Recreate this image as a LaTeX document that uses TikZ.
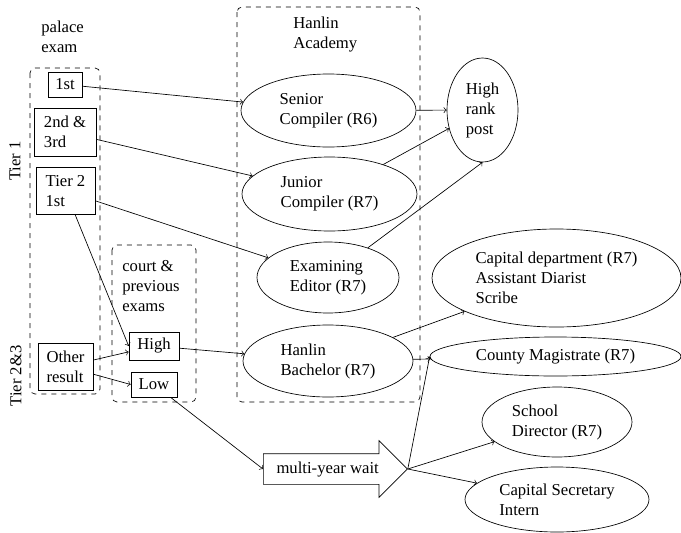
\documentclass[tikz,border=0pt]{standalone}
\usepackage{fontspec}
\setmainfont{Liberation Serif}
\usetikzlibrary{shapes.geometric,shapes.arrows}
\begin{document}
\begin{tikzpicture}[x=0.6pt,y=-0.6pt,
  box/.style={draw,rectangle,align=left,inner sep=2pt},
  oval/.style={draw,ellipse,align=left,inner sep=0pt},
  lbl/.style={align=left,inner sep=0pt,anchor=west},
  grp/.style={draw,dashed,rounded corners=3pt},
  arr/.style={->}]
\useasboundingbox (0,0) rectangle (681,533);
% groups
\draw[grp] (30,68) rectangle (100,394);
\draw[grp] (112,245) rectangle (196,402);
\draw[grp] (237,7) rectangle (420,402);
% labels
\node[lbl] (palace) at (41,37) {palace\\exam};
\node[lbl] (court) at (122,286) {court \&\\previous\\exams};
\node[lbl] (hanlin) at (293,35) {Hanlin\\Academy};
\node[rotate=90] (tierone) at (15,161) {Tier 1};
\node[rotate=90] (tiertt) at (16,376) {Tier 2\&3};
% boxes
\node[box,minimum width=20.4pt,minimum height=15pt] (first) at (65,84.5) {1st};
\node[box,minimum width=37.2pt,minimum height=28.8pt] (second) at (65,132) {2nd \&\\3rd};
\node[box,minimum width=35.4pt,minimum height=28.2pt] (tiertwo) at (65.5,191) {Tier 2\\1st};
\node[box,minimum width=33pt,minimum height=28.2pt] (other) at (65.5,366.5) {Other\\result};
\node[box,minimum width=30pt,minimum height=16.8pt] (high) at (154,346) {High};
\node[box,minimum width=27.6pt,minimum height=15pt] (low) at (154,384.5) {Low};
% ellipses
\node[oval,minimum width=105pt,minimum height=43.8pt] (senior) at (328.5,110.5) {Senior\\Compiler (R6)};
\node[oval,minimum width=105pt,minimum height=44.4pt] (junior) at (329.5,194) {Junior\\Compiler (R7)};
\node[oval,minimum width=85.2pt,minimum height=42.6pt] (examining) at (328,277.5) {Examining\\Editor (R7)};
\node[oval,minimum width=102pt,minimum height=43.2pt] (bachelor) at (328,361) {Hanlin\\Bachelor (R7)};
\node[oval,minimum width=42.6pt,minimum height=62.4pt] (hrp) at (482.5,110) {High\\rank\\post};
\node[oval,minimum width=149.4pt,minimum height=58.8pt] (capdept) at (556.5,278) {Capital department (R7)\\Assistant Diarist\\Scribe};
\node[oval,minimum width=150.6pt,minimum height=23.4pt] (county) at (555.5,356.5) {County Magistrate (R7)};
\node[oval,minimum width=90pt,minimum height=42pt] (school) at (557,422) {School\\Director (R7)};
\node[oval,minimum width=110.4pt,minimum height=39pt] (secretary) at (557,499.5) {Capital Secretary\\Intern};
% arrow node
\node[draw,single arrow,single arrow head extend=7.8pt,single arrow tip angle=90,
  minimum height=86.4pt,text height=7pt,text depth=2pt,inner ysep=4.5pt,inner xsep=2pt,
  anchor=tail] (wait) at (263,469) {multi-year wait};
% connectors
\draw[arr] (first) -- (senior);
\draw[arr] (second) -- (junior);
\draw[arr] (tiertwo) -- (examining);
\draw[arr] (tiertwo) -- (high.west);
\draw[arr] (other) -- (high);
\draw[arr] (other) -- (low.west);
\draw[arr] (high) -- (bachelor);
\draw[arr] (low) -- (wait.tail);
\draw[arr] (senior) -- (hrp);
\draw[arr] (junior) -- (hrp);
\draw[arr] (examining) -- (hrp.south);
\draw[arr] (bachelor) -- (capdept);
\draw[arr] (bachelor) -- (county);
\draw[arr] (wait.tip) -- (county.west);
\draw[arr] (wait.tip) -- (school);
\draw[arr] (wait.tip) -- (secretary);
\end{tikzpicture}
\end{document}
